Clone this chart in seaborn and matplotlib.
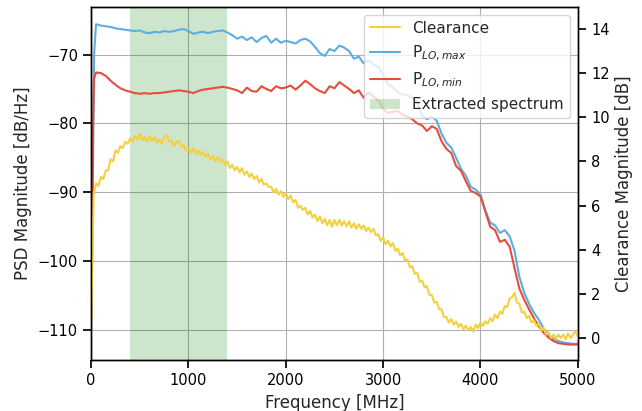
"""PSD of LO sweep with clearance overlay."""

import numpy as np
import pandas as pd
import matplotlib
matplotlib.use("Agg")
import matplotlib.pyplot as plt
import seaborn as sns

# frequency grid for the PSD traces [MHz]
freq_psd = [0, 10, 20, 30] + list(range(50, 5001, 50))

psd_max = [
    -110.0, -100.0, -85.0, -70.0,
    -65.6, -65.8, -65.9, -66.0, -66.2, -66.3, -66.4, -66.5, -66.6, -66.5,
    -66.8, -66.9, -66.7, -66.8, -66.6, -66.7, -66.6, -66.4, -66.3, -66.6,
    -67.0, -66.8, -66.7, -66.9, -66.7, -66.6, -66.5, -66.8, -67.2, -67.7,
    -67.4, -67.9, -67.5, -68.2, -67.6, -67.3, -68.3, -67.7, -68.3, -68.0,
    -68.2, -68.4, -67.9, -67.7, -68.1, -68.9, -69.8, -70.2, -69.2, -69.5,
    -68.7, -69.0, -69.5, -70.6, -70.3, -71.3, -70.8, -71.5, -71.8, -73.0,
    -74.3, -74.8, -75.5, -75.8, -75.9, -76.3, -76.9, -78.9, -79.4, -79.0,
    -79.6, -81.5, -82.8, -83.5, -85.0, -86.6, -87.6, -89.2, -89.6, -90.3,
    -92.6, -94.4, -94.8, -95.9, -95.5, -96.4, -98.5, -102.3, -104.6, -106.2,
    -107.5, -108.5, -109.8, -110.8, -111.3, -111.6, -111.8, -111.9, -112.0, -112.0,
]

psd_min = [
    -109.0, -95.0, -80.0, -73.5,
    -72.6, -72.7, -73.1, -73.8, -74.4, -74.9, -75.2, -75.4, -75.6, -75.7,
    -75.6, -75.7, -75.6, -75.6, -75.5, -75.4, -75.3, -75.2, -75.3, -75.4,
    -75.6, -75.3, -75.1, -75.0, -74.9, -74.8, -74.7, -74.8, -75.0, -75.2,
    -75.6, -74.8, -75.3, -75.4, -74.6, -75.0, -75.3, -74.6, -74.9, -74.8,
    -74.5, -75.1, -74.5, -73.8, -74.3, -74.9, -75.3, -75.6, -74.6, -74.9,
    -74.0, -74.5, -75.0, -75.6, -75.2, -76.3, -75.5, -76.1, -76.6, -77.9,
    -78.5, -78.3, -78.2, -78.8, -79.0, -79.4, -80.0, -80.3, -81.1, -80.4,
    -80.8, -82.6, -83.7, -84.3, -86.2, -86.9, -88.4, -89.8, -90.1, -90.6,
    -92.8, -95.0, -95.5, -97.2, -96.9, -97.9, -101.0, -104.0, -105.6, -107.0,
    -108.3, -109.5, -110.4, -111.1, -111.6, -111.9, -112.0, -112.1, -112.1, -112.1,
]

# clearance trace, finer grid [MHz] / [dB]
freq_clr = list(range(0, 5001, 25))

clearance = [
    0.6, 6.5, 7.0, 6.9, 7.3, 7.2, 7.6, 7.6, 8.1, 8.0,          # 0 - 225
    8.5, 8.4, 8.7, 8.6, 8.9, 8.8, 9.05, 8.9, 9.15, 9.0,        # 250 - 475
    9.25, 8.95, 9.1, 8.9, 9.15, 8.95, 9.1, 8.85, 9.0, 8.8,     # 500 - 725
    9.1, 9.2, 8.9, 8.95, 8.7, 8.85, 8.95, 8.65, 8.75, 8.5,     # 750 - 975
    8.6, 8.4, 8.6, 8.35, 8.5, 8.3, 8.45, 8.2, 8.35, 8.1,       # 1000 - 1225
    8.25, 8.0, 8.2, 8.0, 8.1, 7.85, 8.0, 7.7, 7.85, 7.6,       # 1250 - 1475
    7.75, 7.5, 7.7, 7.4, 7.55, 7.3, 7.45, 7.2, 7.35, 7.05,     # 1500 - 1725
    7.2, 6.95, 7.0, 6.85, 6.85, 6.6, 6.75, 6.5, 6.65, 6.4,     # 1750 - 1975
    6.55, 6.3, 6.45, 6.15, 6.25, 5.9, 6.0, 5.8, 5.9, 5.6,      # 2000 - 2225
    5.75, 5.45, 5.6, 5.3, 5.5, 5.2, 5.4, 5.1, 5.35, 5.05,      # 2250 - 2475
    5.35, 5.1, 5.35, 5.1, 5.3, 5.05, 5.3, 5.0, 5.2, 4.95,      # 2500 - 2725
    5.15, 4.95, 5.1, 4.85, 5.0, 4.8, 4.95, 4.65, 4.7, 4.4,     # 2750 - 2975
    4.55, 4.25, 4.4, 4.15, 4.3, 3.95, 4.05, 3.75, 3.85, 3.5,   # 3000 - 3225
    3.55, 3.2, 3.25, 2.9, 2.95, 2.55, 2.6, 2.3, 2.35, 1.95,    # 3250 - 3475
    1.95, 1.6, 1.65, 1.3, 1.3, 0.95, 0.95, 0.7, 0.85, 0.6,     # 3500 - 3725
    0.75, 0.5, 0.65, 0.4, 0.55, 0.35, 0.5, 0.3, 0.6, 0.45,     # 3750 - 3975
    0.7, 0.55, 0.75, 0.65, 0.9, 0.75, 1.05, 0.9, 1.2, 1.1,     # 4000 - 4225
    1.45, 1.4, 1.8, 1.85, 2.05, 1.6, 1.55, 1.15, 1.2, 0.9,     # 4250 - 4475
    1.0, 0.7, 0.8, 0.55, 0.65, 0.35, 0.45, 0.15, 0.25, 0.0,    # 4500 - 4725
    0.15, -0.05, 0.15, 0.0, 0.15, -0.05, 0.2, 0.0, 0.15, 0.3,  # 4750 - 4975
    0.05,                                                      # 5000
]

span_lo, span_hi = 400, 1400

COL_CLR = "#F4D03F"
COL_MAX = "#5DADE2"
COL_MIN = "#E74C3C"


def main() -> None:
    sns.set_theme(style="ticks", context="notebook")
    plt.rcParams["font.family"] = ["DejaVu Sans"]
    plt.rcParams.update({
        "axes.edgecolor": "black",
        "axes.linewidth": 1.0,
        "xtick.color": "black",
        "ytick.color": "black",
        "xtick.labelsize": 10.5,
        "ytick.labelsize": 10.5,
        "axes.labelsize": 12,
        "legend.fontsize": 11,
    })

    psd = pd.DataFrame({"freq": freq_psd, "max": psd_max, "min": psd_min})
    clr = pd.DataFrame({"freq": freq_clr, "clearance": clearance})

    fig, ax = plt.subplots(figsize=(6.42, 4.11), dpi=100)
    fig.subplots_adjust(left=0.142, right=0.900, bottom=0.124, top=0.983)

    span = ax.axvspan(span_lo, span_hi, color="green", alpha=0.2, lw=0,
                      label="Extracted spectrum")
    sns.lineplot(data=psd, x="freq", y="max", ax=ax, color=COL_MAX, lw=1.5,
                 label=r"P$_{LO,max}$", legend=False)
    sns.lineplot(data=psd, x="freq", y="min", ax=ax, color=COL_MIN, lw=1.5,
                 label=r"P$_{LO,min}$", legend=False)
    ax.set_xlim(0, 5000)
    ax.set_ylim(-114.35, -63.1)
    ax.set_xlabel("Frequency [MHz]")
    ax.set_ylabel("PSD Magnitude [dB/Hz]")
    ax.grid(True, color="#b0b0b0", lw=0.8)

    ax2 = ax.twinx()
    sns.lineplot(data=clr, x="freq", y="clearance", ax=ax2, color=COL_CLR,
                 lw=1.5, label="Clearance", legend=False)
    ax2.set_ylim(-1.0, 15.0)
    ax2.set_yticks([0, 2, 4, 6, 8, 10, 12, 14])
    ax2.set_ylabel("Clearance Magnitude [dB]")
    ax2.grid(False)

    h1 = ax.get_lines()
    handles = [ax2.get_lines()[0], h1[0], h1[1], span]
    labels = ["Clearance", r"P$_{LO,max}$", r"P$_{LO,min}$", "Extracted spectrum"]
    ax2.legend(handles, labels, loc="upper right", framealpha=0.8)

    fig.savefig("out.png", dpi=100)


if __name__ == "__main__":
    main()
